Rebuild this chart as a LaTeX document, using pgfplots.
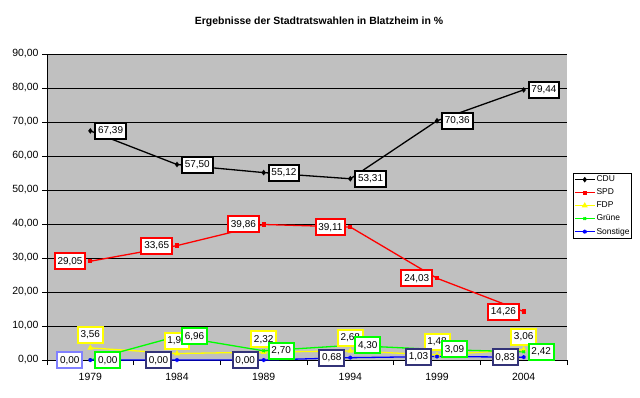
\documentclass[border=0pt]{standalone}
\usepackage{pgfplots}
\pgfplotsset{compat=1.18}
\usepackage{pgfplotstable}
\usepackage{fontspec}
\setmainfont{Liberation Sans}
\definecolor{plotgray}{RGB}{192,192,192}
\definecolor{cdu}{RGB}{0,0,0}
\definecolor{spd}{RGB}{255,0,0}
\definecolor{fdp}{RGB}{255,255,0}
\definecolor{gruene}{RGB}{0,255,0}
\definecolor{sonst}{RGB}{0,0,255}
\definecolor{navyb}{RGB}{51,51,120}
\definecolor{lightb}{RGB}{128,128,255}
\pgfplotstableread{
x CDU SPD FDP Gruene Sonst
0 67.39 29.05 3.56 0.00 0.00
1 57.50 33.65 1.90 6.96 0.00
2 55.12 39.86 2.32 2.70 0.00
3 53.31 39.11 2.68 4.30 0.68
4 70.36 24.03 1.48 3.09 1.03
5 79.44 14.26 3.06 2.42 0.83
}\data
\tikzset{lab/.style={fill=white, line width=2bp, inner xsep=2.8bp, inner ysep=3.5bp,
  text height=7.5bp, text depth=1.5bp, font=\fontsize{10}{12}\selectfont}}
\pgfplotsset{labs/.style={draw=none, mark=none, forget plot, point meta=y,
  nodes near coords={\pgfmathprintnumber[fixed,fixed zerofill,precision=2,use comma,assume math mode=true]{\pgfplotspointmeta}}}}
\begin{document}
\begin{tikzpicture}[x=1bp,y=1bp]
\useasboundingbox (0,0) rectangle (640,397);
\begin{axis}[
  at={(47bp,37bp)}, anchor=south west,
  scale only axis, width=520bp, height=306bp,
  xmin=-0.5, xmax=5.5, ymin=0, ymax=90,
  clip=false,
  axis background/.style={fill=plotgray},
  axis x line*=bottom, axis y line*=left,
  axis line style={-, black, line width=0.8bp},
  tick align=outside,
  major tick length=5bp,
  tick style={black, line width=0.8bp},
  xtick={-0.5,0.5,...,5.5}, xticklabels={},
  extra x ticks={0,1,2,3,4,5},
  extra x tick labels={1979,1984,1989,1994,1999,2004},
  extra x tick style={major tick length=0pt, tick label style={yshift=-10bp}},
  ytick={0,10,...,90},
  ymajorgrids,
  major grid style={black, line width=0.7bp},
  yticklabel style={/pgf/number format/.cd, fixed, fixed zerofill, precision=2, use comma},
  /pgf/number format/assume math mode=true,
  tick label style={font=\fontsize{10.5}{12}\selectfont},
  title={Ergebnisse der Stadtratswahlen in Blatzheim in \%},
  title style={font=\bfseries\fontsize{10.5}{12}\selectfont, at={(0.5,1)}, anchor=center, yshift=26bp, xshift=12bp},
  legend style={at={(1.0115,0.611)}, anchor=north west, draw=black, fill=white,
    font=\fontsize{8.5}{10}\selectfont, inner xsep=1bp, inner ysep=1.5bp, row sep=3.2bp,
    nodes={inner sep=1.2bp}},
  legend image code/.code={\draw[mark repeat=2,mark phase=2] plot coordinates {(0cm,0cm) (0.35cm,0cm) (0.7cm,0cm)};},
  legend cell align=left,
]
\addplot[cdu, line width=1.3bp, mark=diamond*, mark size=1.8bp] table[x=x,y=CDU]{\data};
\addlegendentry{CDU}
\addplot[spd, line width=1.3bp, mark=square*, mark size=1.5bp] table[x=x,y=SPD]{\data};
\addlegendentry{SPD}
\addplot[fdp, line width=1.3bp, mark=triangle*, mark size=2.2bp] table[x=x,y=FDP]{\data};
\addlegendentry{FDP}
\addplot[gruene, line width=1.3bp, mark=x, mark size=1.8bp] table[x=x,y=Gruene]{\data};
\addlegendentry{Grüne}
\addplot[sonst, line width=1.3bp, mark=asterisk, mark size=2bp] table[x=x,y=Sonst]{\data};
\addlegendentry{Sonstige}
% data labels
\addplot[labs, nodes near coords style={lab, draw=cdu, anchor=west, xshift=4bp}] table[x=x,y=CDU]{\data};
\addplot[labs, nodes near coords style={lab, draw=spd, anchor=east, xshift=-4bp}] table[x=x,y=SPD]{\data};
\addplot[labs, nodes near coords style={lab, draw=fdp, anchor=south, yshift=4bp}] table[x=x,y=FDP]{\data};
\addplot[labs, nodes near coords style={lab, draw=gruene, anchor=west, xshift=4bp}] table[x=x,y=Gruene]{\data};
\addplot[labs, skip coords between index={0}{1}, nodes near coords style={lab, draw=navyb, anchor=east, xshift=-5bp}] table[x=x,y=Sonst]{\data};
\addplot[labs, nodes near coords style={lab, draw=lightb, anchor=east, xshift=-7bp}] coordinates {(0,0)};
\end{axis}
\end{tikzpicture}
\end{document}
